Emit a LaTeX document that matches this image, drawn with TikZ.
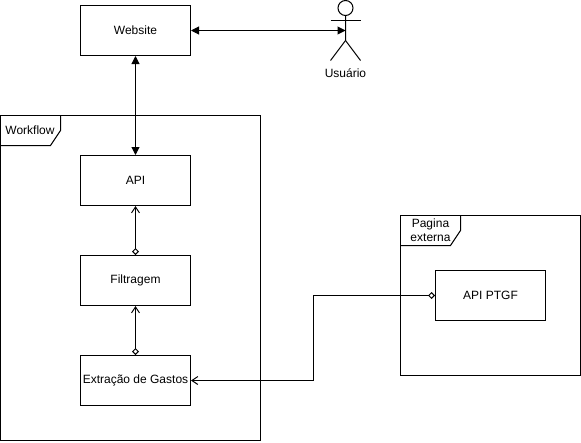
\documentclass[tikz,border=0pt]{standalone}
\usepackage{fontspec}
\setmainfont{Liberation Sans}
\usetikzlibrary{arrows.meta}
\tikzset{
  box/.style={draw, line width=1pt, minimum width=110pt, minimum height=50pt, inner sep=0pt, font=\fontsize{12}{14}\selectfont},
  frame/.style={draw, line width=1pt, inner sep=0pt},
  lbl/.style={inner sep=0pt, align=center, font=\fontsize{12}{14}\selectfont},
  solidboth/.style={{Triangle[length=8pt,width=8pt]}-{Triangle[length=8pt,width=8pt]}, line width=1pt},
  diamondbarb/.style={{Diamond[open,length=7pt,width=7pt]}-{Straight Barb[length=6pt,width=8pt]}, line width=1pt},
}
\begin{document}
\begin{tikzpicture}[x=1pt, y=1pt]
  \useasboundingbox (0,0) rectangle (581,-442);

  \node[frame, minimum width=260pt, minimum height=325pt] (workflow) at (130.5,-277.5) {};
  \node[frame, minimum width=180pt, minimum height=160pt] (externa) at (490.5,-295.5) {};
  \draw[line width=1pt] (60.5,-115.5) -- (60.5,-130.5) -- (50.5,-145.5) -- (0.5,-145.5);
  \draw[line width=1pt] (460.5,-215.5) -- (460.5,-230.5) -- (450.5,-245.5) -- (400.5,-245.5);
  \node[lbl] (workflowlabel) at (30,-130) {Workflow};
  \node[lbl] (externalabel) at (430.5,-230) {Pagina\\externa};

  \node[box] (website) at (135.5,-30.5) {Website};
  \node[box] (api) at (135.5,-180.5) {API};
  \node[box] (filtragem) at (135.5,-280.5) {Filtragem};
  \node[box] (extracao) at (135.5,-380.5) {Extração de Gastos};
  \node[box] (ptgf) at (490.5,-295.5) {API PTGF};

  % actor
  \draw[line width=1pt] (345.5,-8) circle (7.5);
  \draw[line width=1pt] (345.5,-15.5) -- (345.5,-40.5) -- (330.5,-60.5);
  \draw[line width=1pt] (345.5,-40.5) -- (360.5,-60.5);
  \draw[line width=1pt] (330.5,-20.5) -- (360.5,-20.5);
  \coordinate (usuario) at (345.5,-30.5);
  \node[lbl] (usuariolabel) at (345.5,-73.5) {Usuário};

  \draw[solidboth] (website) -- (usuario);
  \draw[solidboth] (website) -- (api);
  \draw[diamondbarb] (filtragem) -- (api);
  \draw[diamondbarb] (extracao) -- (filtragem);
  \draw[diamondbarb] (ptgf.west) -- ++(-122,0) |- (extracao.east);
\end{tikzpicture}
\end{document}
